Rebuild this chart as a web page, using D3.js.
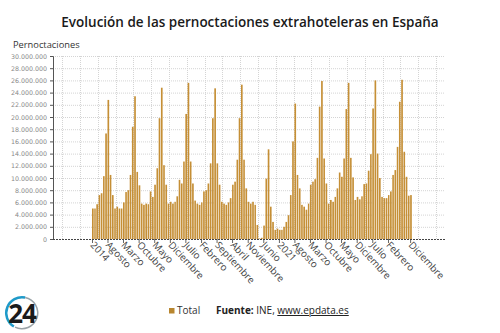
<!DOCTYPE html>
<html><head><meta charset="utf-8">
<script src="https://cdn.jsdelivr.net/npm/d3@7/dist/d3.min.js"></script>
<style>body{margin:0;background:#fff}svg{display:block}</style>
</head><body>
<svg id="chart" width="500" height="333"></svg>
<script>
// ---- Data (millions of overnight stays, monthly, Jan..Dec) ----
const years = [2014,2015,2016,2017,2018,2019,2020,2021,2022,2023,2024,2025];
const v2014 = [5.0,5.0,5.7,7.2,7.5,10.3,17.3,22.8,10.5,7.2,5.0,5.3];
const v2015 = [5.0,5.0,6.0,7.7,8.0,10.5,18.4,23.4,11.0,8.8,5.8,5.6];
const v2016 = [5.8,5.7,7.8,6.9,8.9,11.6,19.8,24.8,12.1,8.9,5.8,6.1];
const v2017 = [5.8,6.1,7.0,9.7,9.1,12.7,20.5,25.6,12.7,9.1,6.3,5.8];
const v2018 = [5.6,6.0,7.8,8.0,9.1,12.4,19.8,24.7,12.4,8.9,6.1,5.8];
const v2019 = [5.6,6.0,6.7,8.9,9.4,13.0,19.8,25.3,13.0,8.3,6.1,5.8];
const v2020 = [6.1,5.6,2.3,0.1,0.2,2.2,9.9,14.7,5.3,2.8,1.5,1.7];
const v2021 = [1.5,1.5,2.0,2.8,3.9,7.2,16.0,22.2,10.5,8.3,5.6,5.3];
const v2022 = [4.8,5.8,8.9,9.4,9.8,13.3,21.7,25.9,13.2,9.1,5.8,6.4];
const v2023 = [6.1,6.9,8.3,10.9,10.2,13.2,21.3,25.6,13.3,10.1,6.4,6.9];
const v2024 = [6.5,7.0,9.0,9.1,11.2,13.9,21.4,26.0,14.0,10.0,6.9,6.7];
const v2025 = [6.7,7.2,7.8,10.5,11.3,15.1,22.5,26.1,14.3,10.2,7.1,7.2];
const yearValues = [v2014,v2015,v2016,v2017,v2018,v2019,v2020,v2021,v2022,v2023,v2024,v2025];
const monthNames = ["Enero","Febrero","Marzo","Abril","Mayo","Junio","Julio","Agosto","Septiembre","Octubre","Noviembre","Diciembre"];
const yTickValues = [0,2e6,4e6,6e6,8e6,10e6,12e6,14e6,16e6,18e6,20e6,22e6,24e6,26e6,28e6,30e6];
const title = "Evolución de las pernoctaciones extrahoteleras en España";
const yTitle = "Pernoctaciones";
const seriesName = "Total";

const data = [];
years.forEach((yr,i)=>yearValues[i].forEach((v,m)=>data.push({date:new Date(yr,m,1), value:v*1e6})));

// ---- Layout ----
const svg = d3.select("#chart");
const L = 53, R = 445, T = 56, B = 239;
const base = d3.scaleTime().domain([new Date(2014,0,1), new Date(2026,0,1)]).range([92, 92+144*2.225]);
const x = base.copy().domain([base.invert(L), base.invert(R)]).range([L, R]);
const y = d3.scaleLinear().domain([0, 30e6]).range([B, T]);
const fmt = v => d3.format(",")(v).replace(/,/g, ".");

// grid
svg.append("g").selectAll("line").data(yTickValues.filter(d=>d>0)).join("line")
  .attr("x1", L).attr("x2", R).attr("y1", d=>y(d)+0.5).attr("y2", d=>y(d)+0.5)
  .attr("stroke", "#d4d4d4").attr("stroke-dasharray", "1,1").attr("stroke-width", 1);
const gridDates = d3.range(22).map(k => d3.timeMonth.offset(new Date(2012,10,20), 8*k));
svg.append("g").selectAll("line").data(gridDates).join("line")
  .attr("x1", d=>Math.round(x(d))+0.5).attr("x2", d=>Math.round(x(d))+0.5).attr("y1", T).attr("y2", B)
  .attr("stroke", "#d4d4d4").attr("stroke-dasharray", "1,1").attr("stroke-width", 1);

// bars
svg.append("g").selectAll("rect").data(data).join("rect")
  .attr("x", d=>x(d.date))
  .attr("width", d=>Math.max(0.5, x(d3.timeMonth.offset(d.date,1)) - x(d.date) - 0.6))
  .attr("y", d=>y(d.value))
  .attr("height", d=>B - y(d.value))
  .attr("fill", "#c58f36");

// y axis
const ya = svg.append("g").attr("transform", `translate(${L},0)`)
  .call(d3.axisLeft(y).tickValues(yTickValues).tickFormat(fmt).tickSize(3).tickPadding(3));
ya.select(".domain").attr("stroke", "#555");
ya.selectAll(".tick line").attr("stroke", "#555");
ya.selectAll("text").attr("fill", "#888").style("font", "6.3px 'DejaVu Sans', sans-serif");

// x axis
const tickDates = d3.range(20).map(k => d3.timeMonth.offset(new Date(2014,0,1), 7*k));
tickDates.push(new Date(2025,11,1));
const xa = svg.append("g").attr("transform", `translate(0,${B})`)
  .call(d3.axisBottom(x).tickValues(tickDates)
    .tickFormat(d => d.getMonth()===0 ? String(d.getFullYear()) : monthNames[d.getMonth()])
    .tickSize(4));
xa.select(".domain").remove();
xa.selectAll(".tick line").attr("stroke", "#666");
xa.selectAll("text").attr("text-anchor", "start").attr("fill", "#444")
  .attr("transform", "rotate(47)").attr("x", 3).attr("y", 3).attr("dy", "0.35em")
  .style("font", "9.8px 'Open Sans', sans-serif");
svg.append("line").attr("x1", L).attr("x2", R).attr("y1", B+0.5).attr("y2", B+0.5)
  .attr("stroke", "#444").attr("stroke-dasharray", "2,1");

// titles
svg.append("text").attr("x", 250).attr("y", 27).attr("text-anchor", "middle")
  .attr("fill", "#1a1a1a").style("font", "600 13.5px 'Open Sans', sans-serif").text(title);
svg.append("text").attr("x", 13).attr("y", 48).attr("fill", "#333")
  .style("font", "9.3px 'Open Sans', sans-serif").text(yTitle);

// legend
svg.append("rect").attr("x", 169).attr("y", 308).attr("width", 5.5).attr("height", 5.5).attr("fill", "#b8862f");
svg.append("text").attr("x", 177).attr("y", 314).attr("fill", "#333")
  .style("font", "10px 'Open Sans', sans-serif").text(seriesName);
const src = svg.append("text").attr("x", 216).attr("y", 314).attr("fill", "#222")
  .style("font", "10px 'Open Sans', sans-serif");
src.append("tspan").style("font-weight", "700").text("Fuente:");
src.append("tspan").text(" INE, ");
src.append("tspan").style("text-decoration", "underline").text("www.epdata.es");

// logo
const logo = svg.append("g").attr("transform", "translate(22,313)");
logo.append("path").attr("d", d3.arc()({innerRadius:14.5, outerRadius:17, startAngle:-2.6, endAngle:0.2}))
  .attr("fill", "#1f9ac9");
logo.append("path").attr("d", d3.arc()({innerRadius:15, outerRadius:16.5, startAngle:0.2, endAngle:3.6}))
  .attr("fill", "#9aa3a8");
logo.append("text").attr("x", 0).attr("y", 9.5).attr("text-anchor", "middle").attr("fill", "#1b1b1b")
  .style("font", "700 26px 'Open Sans', sans-serif").style("letter-spacing", "-1px").text("24");
</script>
</body></html>
